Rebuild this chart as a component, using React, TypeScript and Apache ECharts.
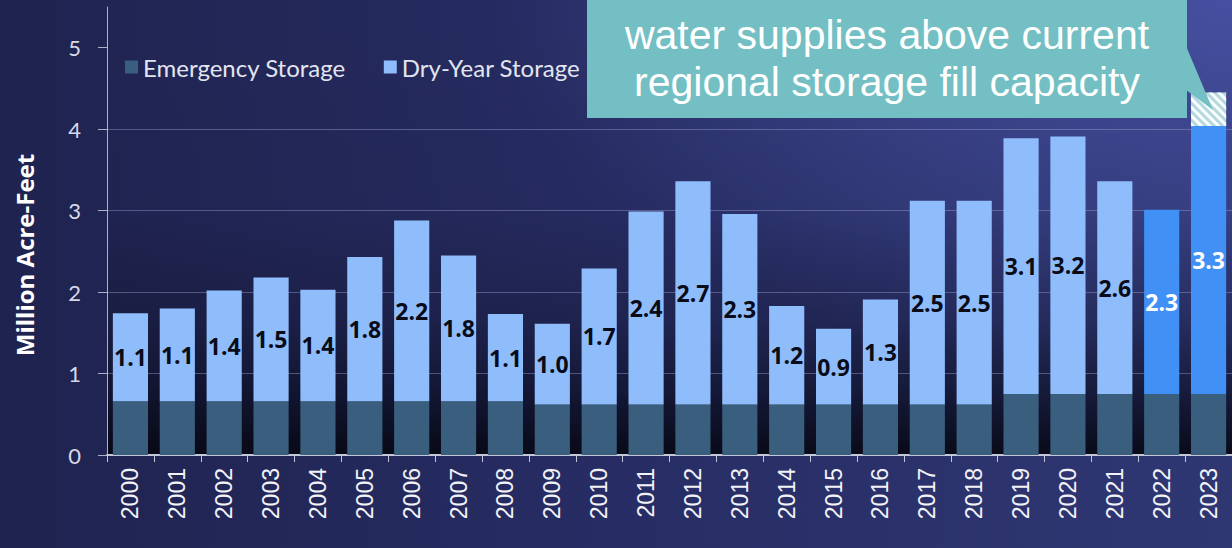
import React, { useEffect, useRef } from "react";
import * as echarts from "echarts";

const years = [
  "2000", "2001", "2002", "2003", "2004", "2005", "2006", "2007", "2008", "2009", "2010", "2011",
  "2012", "2013", "2014", "2015", "2016", "2017", "2018", "2019", "2020", "2021", "2022", "2023",
];
const emergencyStorage = [
  0.66, 0.66, 0.66, 0.66, 0.66, 0.66, 0.66, 0.66, 0.66,
  0.62, 0.62, 0.62, 0.62, 0.62, 0.62, 0.62, 0.62, 0.62, 0.62,
  0.75, 0.75, 0.75, 0.75, 0.75,
];
const dryYearStorage = [
  1.08, 1.14, 1.36, 1.52, 1.37, 1.77, 2.22, 1.79, 1.07, 0.99, 1.67, 2.37,
  2.74, 2.34, 1.21, 0.93, 1.29, 2.5, 2.5, 3.14, 3.16, 2.61, 2.26, 3.29,
];
const highlightedYears = ["2022", "2023"];
const excessAboveCapacity = [{ year: "2023", value: 0.41 }];
const yTicks = [0, 1, 2, 3, 4, 5];
const calloutLines = ["water supplies above current", "regional storage fill capacity"];
const yAxisTitle = "Million Acre-Feet";
const legendNames = ["Emergency Storage", "Dry-Year Storage"];

export default function App() {
  const ref = useRef<HTMLDivElement>(null);

  useEffect(() => {
    if (!ref.current) return;
    const chart = echarts.init(ref.current, null, { renderer: "svg" });

    const dryData = years.map((y, i) =>
      highlightedYears.includes(y)
        ? { value: dryYearStorage[i], itemStyle: { color: "#4190f5" }, label: { color: "#ffffff" } }
        : { value: dryYearStorage[i] }
    );
    const excessData = years.map((y) => {
      const e = excessAboveCapacity.find((d) => d.year === y);
      return e ? e.value : "-";
    });

    const plotGradient = new echarts.graphic.LinearGradient(0, 0, 0, 1, [
      { offset: 0, color: "rgba(4,5,14,0)" },
      { offset: 0.45, color: "rgba(4,5,14,0.04)" },
      { offset: 0.7, color: "rgba(4,5,14,0.24)" },
      { offset: 0.85, color: "rgba(4,5,14,0.52)" },
      { offset: 1, color: "rgba(4,5,14,0.88)" },
    ]);

    chart.setOption({
      animation: false,
      backgroundColor: "transparent",
      grid: {
        left: 107,
        top: 7,
        width: 1133,
        height: 448,
        show: true,
        backgroundColor: plotGradient,
        borderWidth: 0,
        containLabel: false,
      },
      legend: {
        data: legendNames,
        left: 120,
        top: 50,
        icon: "rect",
        itemWidth: 13,
        itemHeight: 13,
        itemGap: 38,
        textStyle: { color: "#e2e5f0", fontSize: 24, fontFamily: "Lato" },
      },
      xAxis: {
        type: "category",
        data: years,
        axisLine: { show: true, lineStyle: { color: "#c3c7d8", width: 2 } },
        axisTick: { show: true, length: 7, lineStyle: { color: "#c3c7d8", width: 1 } },
        axisLabel: {
          interval: 0,
          rotate: 90,
          margin: 13,
          color: "#f2f2f7",
          fontSize: 23,
          fontFamily: "Liberation Sans",
        },
        splitLine: { show: false },
      },
      yAxis: {
        type: "value",
        min: 0,
        max: 5.5,
        interval: 1,
        axisLine: { show: true, lineStyle: { color: "#aeb2c8", width: 1 } },
        axisTick: { show: true, length: 9, customValues: yTicks, lineStyle: { color: "#aeb2c8" } },
        axisLabel: {
          customValues: yTicks,
          margin: 26,
          color: "#d6d9e8",
          fontSize: 22,
          fontFamily: "Lato",
        },
        splitLine: {
          show: true,
          showMinLine: false,
          showMaxLine: false,
          lineStyle: { color: "rgba(150,156,205,0.45)", width: 1 },
        },
      },
      series: [
        {
          name: legendNames[0],
          type: "bar",
          stack: "total",
          barCategoryGap: "25%",
          data: emergencyStorage,
          itemStyle: { color: "#3a5f7e" },
        },
        {
          name: legendNames[1],
          type: "bar",
          stack: "total",
          data: dryData,
          itemStyle: { color: "#8fbdfc" },
          label: {
            show: true,
            position: "inside",
            color: "#0a0b18",
            fontSize: 23,
            fontWeight: "bold",
            fontFamily: "Open Sans",
            formatter: (p: any) => Number(p.value).toFixed(1),
          },
        },
        {
          name: "Excess",
          type: "bar",
          stack: "total",
          data: excessData,
          itemStyle: {
            color: "#b4d8df",
            decal: {
              symbol: "rect",
              symbolSize: 1,
              color: "rgba(255,255,255,0.95)",
              dashArrayX: [1, 0],
              dashArrayY: [3, 3],
              rotation: Math.PI / 4,
            },
          },
        },
      ],
      graphic: [
        {
          type: "rect",
          z: 100,
          shape: { x: 587, y: -5, width: 600, height: 123 },
          style: { fill: "#73bfc4" },
        },
        {
          type: "polygon",
          z: 100,
          shape: { points: [[1186, 46], [1213, 110], [1186, 90]] },
          style: { fill: "#73bfc4" },
        },
        {
          type: "text",
          z: 101,
          x: 887,
          y: 35,
          style: {
            text: calloutLines[0],
            fill: "#ffffff",
            font: "41px 'Liberation Sans', Arial, sans-serif",
            align: "center",
            verticalAlign: "middle",
            textAlign: "center",
            textVerticalAlign: "middle",
          },
        },
        {
          type: "text",
          z: 101,
          x: 887,
          y: 82,
          style: {
            text: calloutLines[1],
            fill: "#ffffff",
            font: "41px 'Liberation Sans', Arial, sans-serif",
            align: "center",
            verticalAlign: "middle",
            textAlign: "center",
            textVerticalAlign: "middle",
          },
        },
        {
          type: "text",
          z: 101,
          x: 24,
          y: 255,
          rotation: Math.PI / 2,
          style: {
            text: yAxisTitle,
            fill: "#ffffff",
            font: "bold 24px 'Open Sans', sans-serif",
            align: "center",
            verticalAlign: "middle",
            textAlign: "center",
            textVerticalAlign: "middle",
          },
        },
      ],
    });

    return () => chart.dispose();
  }, []);

  return (
    <div
      style={{
        position: "fixed",
        left: 0,
        top: 0,
        width: 1232,
        height: 548,
        background:
          "radial-gradient(ellipse 60% 70% at 100% 0%, rgba(72,82,165,0.9) 0%, rgba(60,70,145,0) 100%), linear-gradient(90deg, #1f234f 0%, #272d64 50%, #2f3773 100%)",
        overflow: "hidden",
      }}
    >
      <div ref={ref} style={{ width: 1232, height: 548 }} />
    </div>
  );
}
